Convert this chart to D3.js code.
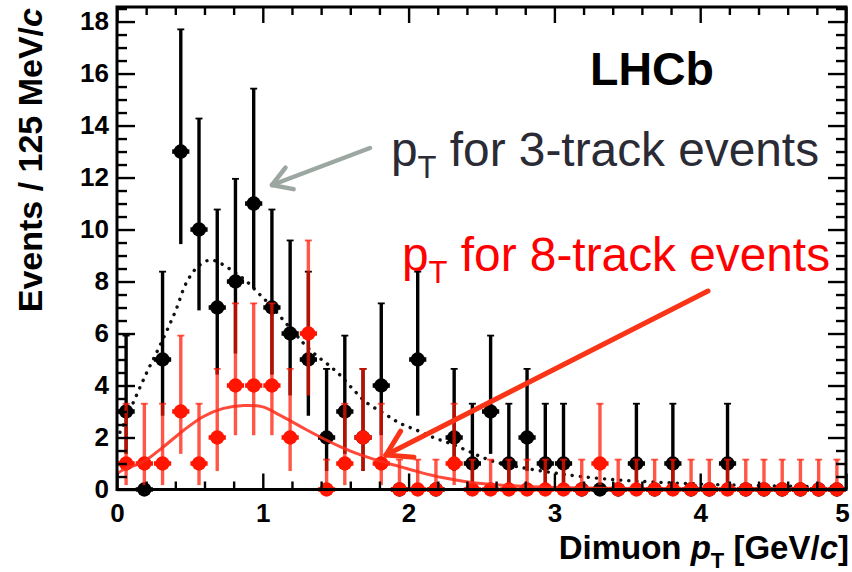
<!DOCTYPE html>
<html>
<head>
<meta charset="utf-8">
<script src="https://cdnjs.cloudflare.com/ajax/libs/d3/7.8.5/d3.min.js"></script>
<style>
  html, body { margin: 0; padding: 0; background: #fff; }
  svg { display: block; }
</style>
</head>
<body>
<svg id="chart" width="852" height="572"></svg>
<script>
// Dimuon pT spectra, 125 MeV/c bins from 0 to 5 GeV/c
const binWidth = 0.125;
const tracks3 = [3, 0, 5, 13, 10, 7, 8, 11, 7, 6, 5, 2, 3, 2, 4, 0, 5, 0, 2, 1,
                 3, 1, 2, 1, 1, 0, 0, 0, 1, 0, 1, 0, 0, 1, 0, 0, 0, 0, 0, 0];
const tracks8 = [1, 1, 1, 3, 1, 2, 4, 4, 4, 2, 6, 0, 1, 2, 1, 0, 0, 0, 1, 0,
                 0, 0, 0, 0, 0, 0, 1, 0, 0, 0, 0, 0, 0, 0, 0, 0, 0, 0, 0, 0];

// Poisson 68% interval limits per observed count
const poissonN    = [0, 1, 2, 3, 4, 5, 6, 7, 8, 9, 10, 11, 12, 13];
const poissonLow  = [0, 0.17, 0.71, 1.37, 2.09, 2.84, 3.62, 4.42, 5.23, 6.06, 6.89, 7.73, 8.59, 9.44];
const poissonHigh = [1.15, 3.30, 4.64, 5.92, 7.16, 8.38, 9.58, 10.77, 11.95, 13.11, 14.27, 15.42, 16.56, 17.70];

// Fitted shapes
const fit3X = [0.02, 0.10, 0.20, 0.30, 0.40, 0.48, 0.56, 0.64, 0.71, 0.80, 0.89, 0.97, 1.05, 1.14, 1.23, 1.30,
               1.38, 1.46, 1.53, 1.62, 1.71, 1.83, 1.94, 2.06, 2.17, 2.28, 2.40, 2.50, 2.60, 2.76, 2.97,
               3.18, 3.43, 3.68, 4.00, 4.50, 5.00];
const fit3Y = [2.2, 3.2, 4.45, 5.6, 6.85, 8.0, 8.6, 8.83, 8.7, 8.38, 8.0, 7.55, 7.1, 6.52, 5.94, 5.5,
               5.1, 4.75, 4.4, 3.85, 3.35, 2.93, 2.55, 2.27, 2.0, 1.78, 1.5, 1.25, 1.05, 0.86, 0.66,
               0.5, 0.37, 0.29, 0.21, 0.14, 0.10];
const fit8X = [0.00, 0.04, 0.18, 0.32, 0.46, 0.59, 0.73, 0.87, 1.00, 1.12, 1.26, 1.39, 1.53, 1.67, 1.80,
               1.94, 2.08, 2.24, 2.42, 2.60, 2.80, 3.00, 3.50, 4.00, 5.00];
const fit8Y = [0.6, 0.75, 1.07, 1.65, 2.29, 2.8, 3.12, 3.23, 3.18, 2.85, 2.42, 2.03, 1.65, 1.33, 1.1,
               0.88, 0.66, 0.45, 0.28, 0.18, 0.12, 0.08, 0.04, 0.02, 0.01];

const xTickLabels = [0, 1, 2, 3, 4, 5];
const yTickLabels = [0, 2, 4, 6, 8, 10, 12, 14, 16, 18];

const svg = d3.select("#chart");
const frame = { left: 117, right: 846, top: 7, bottom: 489.5 };
const x = d3.scaleLinear().domain([0, 5]).range([frame.left, frame.right]);
const y = d3.scaleLinear().domain([0, 18.56]).range([frame.bottom, frame.top]);
const font = "'Liberation Sans', Arial, Helvetica, sans-serif";

svg.append("defs").append("clipPath").attr("id", "plotClip")
  .append("rect").attr("x", frame.left).attr("y", frame.top)
  .attr("width", frame.right - frame.left).attr("height", frame.bottom - frame.top);

const centres = tracks3.map((_, i) => (i + 0.5) * binWidth);

function limits(n) {
  const k = poissonN.indexOf(n);
  return [poissonLow[k], poissonHigh[k]];
}

const line = d3.line().x(d => x(d[0])).y(d => y(d[1])).curve(d3.curveCatmullRom.alpha(0.5));

// 3-track fit (dotted)
svg.append("path")
  .datum(fit3X.map((v, i) => [v, fit3Y[i]]))
  .attr("clip-path", "url(#plotClip)")
  .attr("d", line)
  .attr("fill", "none").attr("stroke", "#111")
  .attr("stroke-width", 3.4).attr("stroke-linecap", "round")
  .attr("stroke-dasharray", "0.1,8");

function drawSeries(values, opts) {
  const g = svg.append("g");
  values.forEach((n, i) => {
    const cx = x(centres[i]);
    const [lo, hi] = limits(n);
    if (n > 0 || opts.zeroBars) {
      g.append("line")
        .attr("x1", cx).attr("x2", cx)
        .attr("y1", y(lo)).attr("y2", y(hi))
        .attr("stroke", opts.color).attr("stroke-width", 3.4)
        .attr("stroke-opacity", opts.barOpacity);
      g.append("line")
        .attr("x1", cx - 3.5).attr("x2", cx + 3.5)
        .attr("y1", y(hi)).attr("y2", y(hi))
        .attr("stroke", opts.color).attr("stroke-width", 1.8)
        .attr("stroke-opacity", opts.barOpacity);
    }
    g.append("line")
      .attr("x1", x(centres[i] - binWidth / 2) + 0.5).attr("x2", x(centres[i] + binWidth / 2) - 0.5)
      .attr("y1", y(n)).attr("y2", y(n))
      .attr("stroke", opts.color).attr("stroke-width", 4.5);
    g.append("circle")
      .attr("cx", cx).attr("cy", y(n)).attr("r", 7.2)
      .attr("fill", opts.color);
  });
}

drawSeries(tracks3, { color: "#000", barOpacity: 1, zeroBars: false });
drawSeries(tracks8, { color: "#ff1500", barOpacity: 0.72, zeroBars: true });

// 8-track fit (solid red)
svg.append("path")
  .datum(fit8X.map((v, i) => [v, fit8Y[i]]))
  .attr("clip-path", "url(#plotClip)")
  .attr("d", line)
  .attr("fill", "none").attr("stroke", "#ff2a1a")
  .attr("stroke-width", 3).attr("stroke-opacity", 0.85);

// Frame
svg.append("rect")
  .attr("x", frame.left).attr("y", frame.top)
  .attr("width", frame.right - frame.left).attr("height", frame.bottom - frame.top)
  .attr("fill", "none").attr("stroke", "#000").attr("stroke-width", 3);

// Axes with inward ticks
function styleAxis(g) {
  g.select(".domain").remove();
  g.selectAll(".tick line").attr("stroke", "#000").attr("stroke-width", 2.4);
  g.selectAll("text").attr("font-family", font).attr("font-weight", "bold")
    .attr("font-size", 26).attr("fill", "#000");
}
const yMinor = d3.range(0, 18.51, 0.5).filter(v => v % 2 !== 0);
const xMinor = d3.range(0, 5.01, 0.2).map(v => +v.toFixed(1)).filter(v => !Number.isInteger(v));

svg.append("g").attr("transform", `translate(${frame.left},0)`)
  .call(d3.axisLeft(y).tickValues(yTickLabels).tickSize(-18).tickPadding(8).tickFormat(d3.format("d")))
  .call(styleAxis);
svg.append("g").attr("transform", `translate(${frame.left},0)`)
  .call(d3.axisLeft(y).tickValues(yMinor).tickSize(-10).tickFormat(""))
  .call(styleAxis);
svg.append("g").attr("transform", `translate(${frame.right},0)`)
  .call(d3.axisRight(y).tickValues(yTickLabels).tickSize(-18).tickFormat(""))
  .call(styleAxis);
svg.append("g").attr("transform", `translate(${frame.right},0)`)
  .call(d3.axisRight(y).tickValues(yMinor).tickSize(-10).tickFormat(""))
  .call(styleAxis);
const xAxisG = svg.append("g").attr("transform", `translate(0,${frame.bottom})`)
  .call(d3.axisBottom(x).tickValues(xTickLabels).tickSize(-16).tickPadding(14).tickFormat(d3.format("d")))
  .call(styleAxis);
// keep the last label inside the page edge
xAxisG.selectAll(".tick text").filter(d => d === 5).attr("dx", -4);
svg.append("g").attr("transform", `translate(0,${frame.bottom})`)
  .call(d3.axisBottom(x).tickValues(xMinor).tickSize(-8).tickFormat(""))
  .call(styleAxis);
svg.append("g").attr("transform", `translate(0,${frame.top})`)
  .call(d3.axisTop(x).tickValues(xTickLabels).tickSize(-16).tickFormat(""))
  .call(styleAxis);
svg.append("g").attr("transform", `translate(0,${frame.top})`)
  .call(d3.axisTop(x).tickValues(xMinor).tickSize(-8).tickFormat(""))
  .call(styleAxis);

// Axis titles
const yTitle = svg.append("text")
  .attr("transform", "translate(42,8) rotate(-90)")
  .attr("text-anchor", "end")
  .attr("font-family", font).attr("font-weight", "bold").attr("font-size", 34).attr("fill", "#000");
yTitle.append("tspan").text("Events / 125 MeV/");
yTitle.append("tspan").attr("font-style", "italic").text("c");

const xTitle = svg.append("text")
  .attr("x", 849).attr("y", 559)
  .attr("text-anchor", "end")
  .attr("font-family", font).attr("font-weight", "bold").attr("font-size", 33).attr("fill", "#000");
xTitle.append("tspan").text("Dimuon ");
xTitle.append("tspan").attr("font-style", "italic").text("p");
xTitle.append("tspan").attr("font-size", 22).attr("dy", 9).text("T");
xTitle.append("tspan").attr("dy", -9).text(" [GeV/");
xTitle.append("tspan").attr("font-style", "italic").text("c");
xTitle.append("tspan").text("]");

// Experiment tag
svg.append("text")
  .attr("x", 590).attr("y", 85)
  .attr("font-family", font).attr("font-weight", "bold").attr("font-size", 46.5).attr("fill", "#000")
  .text("LHCb");

// Annotations
function annotate(xPos, yPos, colour, rest) {
  const t = svg.append("text")
    .attr("x", xPos).attr("y", yPos)
    .attr("font-family", font).attr("font-size", 47.8).attr("fill", colour);
  t.append("tspan").text("p");
  t.append("tspan").attr("font-size", 31).attr("dy", 12).text("T");
  t.append("tspan").attr("dy", -12).text(rest);
}
annotate(391, 166, "#2b2b35", " for 3-track events");
annotate(402, 271, "#ff0000", " for 8-track events");

function arrow(x1, y1, x2, y2, colour, width, head) {
  const g = svg.append("g").attr("stroke", colour).attr("stroke-width", width)
    .attr("stroke-linecap", "round").attr("fill", "none");
  g.append("line").attr("x1", x1).attr("y1", y1).attr("x2", x2).attr("y2", y2);
  const a = Math.atan2(y1 - y2, x1 - x2);
  const spread = 0.55;
  [a + spread, a - spread].forEach(b => {
    g.append("line").attr("x1", x2).attr("y1", y2)
      .attr("x2", x2 + head * Math.cos(b)).attr("y2", y2 + head * Math.sin(b));
  });
}
arrow(370, 148, 272, 185, "#9ba7a0", 4.5, 22);
arrow(708, 291, 386, 455, "#fa3416", 5, 28);
</script>
</body>
</html>
